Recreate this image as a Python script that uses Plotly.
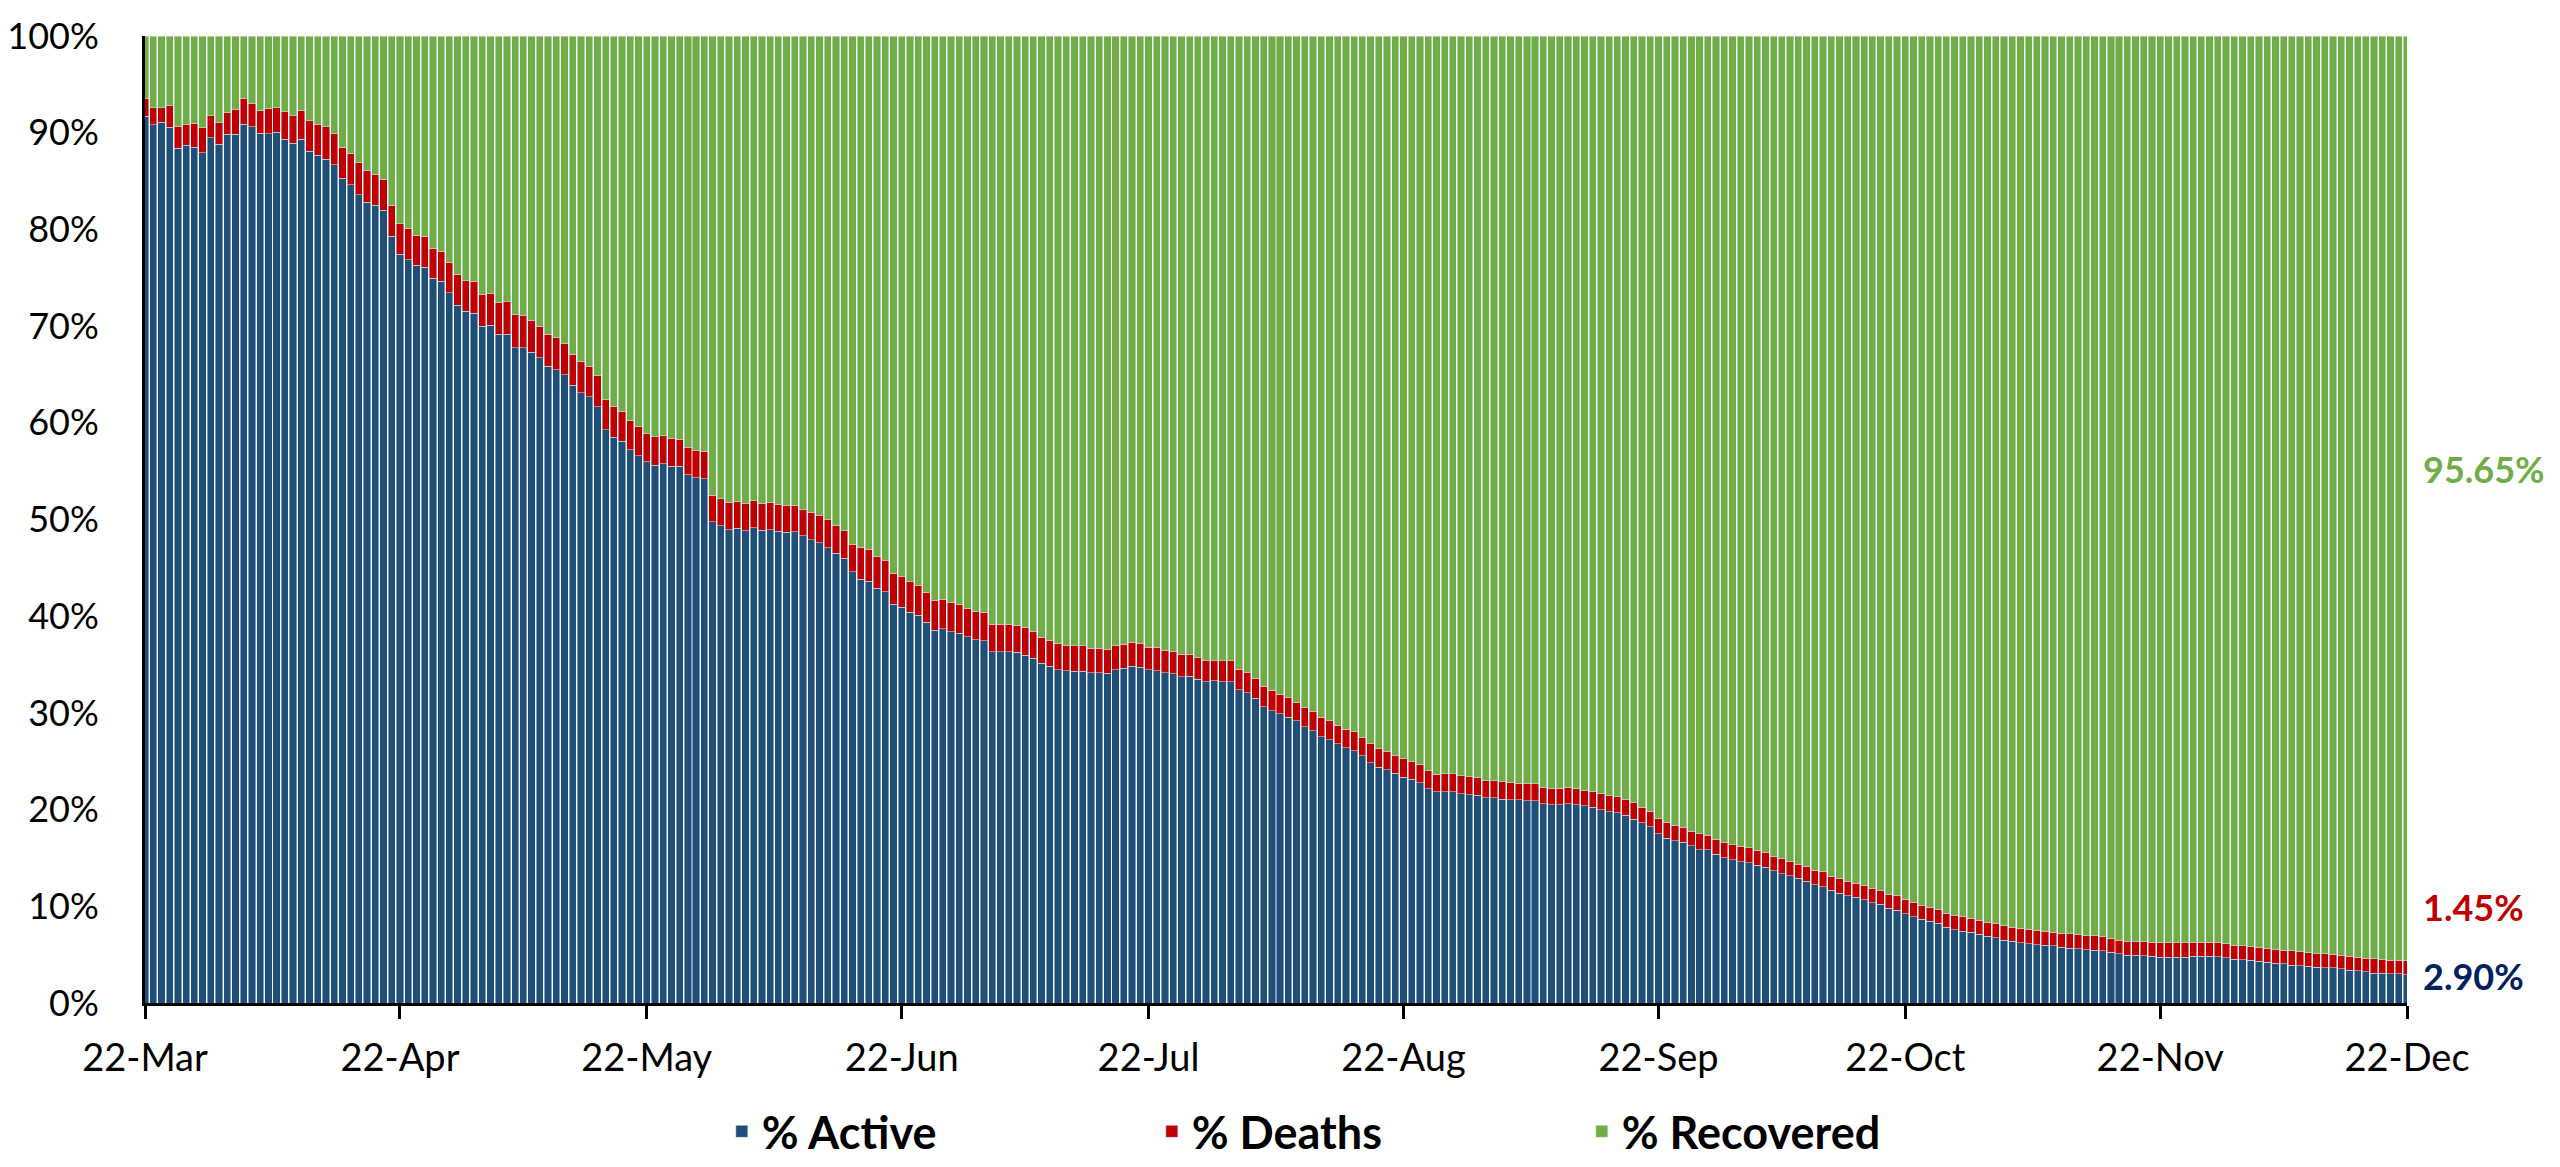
import datetime as dt
import plotly.graph_objects as go

# Daily share of cases (%), 22-Mar-2020 .. 22-Dec-2020
start_date = "2020-03-22"
active = [
    91.70, 90.80, 91.08, 90.56, 88.40, 88.70, 88.50, 87.95, 89.46, 88.80,
    89.84, 89.84, 90.90, 90.60, 89.94, 89.90, 90.05, 89.30, 88.90, 89.30,
    88.10, 87.67, 87.26, 86.70, 85.30, 84.60, 83.60, 82.80, 82.50, 82.00,
    79.30, 77.41, 76.86, 76.27, 76.10, 74.97, 74.66, 73.45, 72.18, 71.56,
    71.35, 70.01, 70.08, 69.18, 69.18, 67.77, 67.77, 67.29, 66.74, 65.87,
    65.50, 64.98, 63.88, 63.09, 62.67, 61.67, 59.30, 58.51, 58.09, 57.23,
    56.58, 55.96, 55.61, 55.75, 55.51, 55.51, 54.65, 54.34, 54.24, 49.76,
    49.35, 48.93, 49.07, 48.83, 49.17, 48.90, 48.93, 48.76, 48.66, 48.73,
    48.31, 47.90, 47.62, 47.10, 46.49, 46.00, 44.59, 43.80, 43.63, 42.87,
    42.53, 41.25, 40.94, 40.39, 40.08, 39.39, 38.57, 38.71, 38.40, 38.26,
    37.88, 37.57, 37.47, 36.33, 36.33, 36.33, 36.29, 35.98, 35.67, 35.12,
    34.85, 34.47, 34.37, 34.33, 34.33, 34.16, 34.16, 34.09, 34.47, 34.61,
    34.85, 34.74, 34.44, 34.37, 34.13, 34.06, 33.75, 33.78, 33.47, 33.23,
    33.30, 33.23, 33.23, 32.37, 32.06, 31.54, 30.65, 30.23, 29.89, 29.55,
    29.17, 28.58, 28.17, 27.55, 27.20, 26.79, 26.38, 26.10, 25.55, 24.86,
    24.38, 24.10, 23.76, 23.35, 23.14, 22.80, 22.18, 21.83, 21.87, 21.83,
    21.63, 21.52, 21.49, 21.21, 21.21, 21.07, 21.04, 21.01, 20.90, 20.90,
    20.59, 20.49, 20.52, 20.59, 20.49, 20.39, 20.25, 20.01, 19.77, 19.66,
    19.42, 19.01, 18.63, 18.22, 17.49, 17.05, 16.77, 16.63, 16.25, 15.87,
    15.84, 15.36, 15.01, 14.81, 14.63, 14.50, 14.22, 14.02, 13.67, 13.36,
    13.15, 12.88, 12.57, 12.22, 12.02, 11.64, 11.36, 11.09, 10.92, 10.67,
    10.36, 10.19, 9.78, 9.61, 9.23, 8.92, 8.64, 8.44, 8.23, 7.82,
    7.58, 7.44, 7.30, 7.13, 6.92, 6.75, 6.47, 6.37, 6.23, 6.13,
    6.03, 5.96, 5.92, 5.79, 5.68, 5.61, 5.51, 5.44, 5.41, 5.27,
    5.10, 4.96, 4.92, 4.89, 4.82, 4.75, 4.75, 4.72, 4.72, 4.82,
    4.82, 4.82, 4.79, 4.68, 4.51, 4.48, 4.41, 4.30, 4.20, 4.13,
    4.06, 3.93, 3.86, 3.79, 3.68, 3.65, 3.62, 3.55, 3.37, 3.31,
    3.24, 3.10, 3.06, 3.03, 3.00, 2.90,
]
deaths = [
    1.86, 1.80, 1.52, 2.24, 2.27, 2.17, 2.50, 2.58, 2.31, 2.25,
    2.24, 2.56, 2.60, 2.40, 2.31, 2.60, 2.55, 2.85, 2.87, 3.00,
    3.15, 3.20, 3.34, 3.20, 3.20, 3.30, 3.30, 3.30, 3.20, 3.20,
    3.20, 3.17, 3.20, 3.10, 3.17, 3.06, 3.09, 3.13, 3.16, 3.16,
    3.27, 3.27, 3.27, 3.24, 3.34, 3.41, 3.34, 3.30, 3.27, 3.31,
    3.30, 3.20, 3.20, 3.23, 3.20, 3.21, 3.10, 3.13, 3.10, 3.03,
    3.03, 2.92, 2.93, 2.89, 2.89, 2.79, 2.82, 2.82, 2.82, 2.75,
    2.82, 2.83, 2.79, 2.82, 2.76, 2.75, 2.83, 2.82, 2.82, 2.75,
    2.72, 2.86, 2.83, 2.90, 2.86, 2.86, 2.86, 3.31, 3.30, 3.27,
    3.27, 3.17, 3.21, 3.17, 3.14, 3.07, 3.10, 3.06, 2.99, 2.99,
    2.96, 2.96, 2.92, 2.86, 2.86, 2.86, 2.79, 2.83, 2.76, 2.72,
    2.68, 2.69, 2.65, 2.59, 2.59, 2.55, 2.55, 2.51, 2.55, 2.51,
    2.48, 2.48, 2.34, 2.41, 2.37, 2.34, 2.30, 2.27, 2.24, 2.24,
    2.17, 2.17, 2.17, 2.13, 2.13, 2.03, 2.13, 2.10, 2.03, 2.06,
    1.92, 2.00, 2.00, 2.00, 1.97, 1.93, 1.93, 1.93, 1.86, 1.93,
    1.96, 1.93, 1.86, 1.89, 1.86, 1.86, 1.86, 1.83, 1.82, 1.86,
    1.85, 1.86, 1.82, 1.79, 1.76, 1.80, 1.72, 1.72, 1.76, 1.76,
    1.69, 1.65, 1.69, 1.69, 1.65, 1.61, 1.65, 1.62, 1.65, 1.66,
    1.65, 1.69, 1.62, 1.61, 1.59, 1.65, 1.62, 1.55, 1.52, 1.62,
    1.52, 1.58, 1.62, 1.55, 1.59, 1.58, 1.59, 1.58, 1.52, 1.55,
    1.52, 1.48, 1.58, 1.52, 1.55, 1.48, 1.55, 1.51, 1.48, 1.49,
    1.52, 1.48, 1.48, 1.51, 1.48, 1.48, 1.48, 1.48, 1.48, 1.48,
    1.51, 1.55, 1.48, 1.44, 1.45, 1.51, 1.52, 1.48, 1.52, 1.51,
    1.51, 1.48, 1.41, 1.44, 1.48, 1.45, 1.45, 1.52, 1.44, 1.41,
    1.41, 1.44, 1.48, 1.45, 1.45, 1.48, 1.48, 1.51, 1.51, 1.48,
    1.48, 1.48, 1.48, 1.45, 1.48, 1.44, 1.41, 1.45, 1.48, 1.45,
    1.42, 1.48, 1.44, 1.41, 1.42, 1.45, 1.41, 1.41, 1.45, 1.41,
    1.41, 1.48, 1.42, 1.41, 1.44, 1.45,
]
recovered = [round(100 - a - d, 2) for a, d in zip(active, deaths)]

tick_dates = ["2020-03-22", "2020-04-22", "2020-05-22", "2020-06-22", "2020-07-22",
              "2020-08-22", "2020-09-22", "2020-10-22", "2020-11-22", "2020-12-22"]
tick_labels = ["22-Mar", "22-Apr", "22-May", "22-Jun", "22-Jul",
               "22-Aug", "22-Sep", "22-Oct", "22-Nov", "22-Dec"]
y_ticks = list(range(0, 101, 10))
y_labels = [f"{v}%" for v in y_ticks]

final_labels = ["95.65%", "1.45%", "2.90%"]

d0 = dt.date.fromisoformat(start_date)
dates = [(d0 + dt.timedelta(days=i)).isoformat() for i in range(len(active))]

C_ACTIVE = "#1F4E79"
C_DEATHS = "#C00000"
C_RECOV = "#70AD47"
FONT = "Lato"

fig = go.Figure()
fig.add_trace(go.Bar(x=dates, y=active, name="% Active", marker_color=C_ACTIVE))
fig.add_trace(go.Bar(x=dates, y=deaths, name="% Deaths", marker_color=C_DEATHS))
fig.add_trace(go.Bar(x=dates, y=recovered, name="% Recovered", marker_color=C_RECOV))

fig.update_layout(
    barmode="stack",
    bargap=0.12,
    width=2560, height=1167,
    margin=dict(l=137, r=161, t=28, b=172, autoexpand=False),
    plot_bgcolor="white",
    paper_bgcolor="white",
    font=dict(family=FONT, size=36, color="black"),
    legend=dict(
        orientation="h", traceorder="normal",
        x=0.255, xanchor="left", y=-0.133, yanchor="middle",
        font=dict(family=FONT, size=45, color="black", weight="bold"),
        entrywidth=385, entrywidthmode="pixels",
        bgcolor="rgba(0,0,0,0)",
    ),
    showlegend=True,
)

fig.update_xaxes(
    type="date",
    range=[tick_dates[0], tick_dates[-1]],
    tickmode="array", tickvals=tick_dates, ticktext=tick_labels,
    ticks="outside", ticklen=13, tickwidth=3, tickcolor="black",
    showline=True, linewidth=3, linecolor="black",
    showgrid=False, zeroline=False, automargin=False,
    ticklabelstandoff=6,
    tickfont=dict(family=FONT, size=38, color="black"),
)
fig.update_yaxes(
    range=[0, 100],
    tickmode="array", tickvals=y_ticks, ticktext=y_labels,
    ticks="", showline=True, linewidth=3, linecolor="black",
    showgrid=False, zeroline=False, automargin=False,
    ticklabelstandoff=36,
    tickfont=dict(family=FONT, size=36, color="black"),
)

ann_y = [55.2, 9.9, 2.75]
ann_colors = [C_RECOV, C_DEATHS, "#002060"]
for txt, yy, col in zip(final_labels, ann_y, ann_colors):
    fig.add_annotation(
        xref="paper", x=1.006, xanchor="left",
        yref="y", y=yy, yanchor="middle",
        text=f"<b>{txt}</b>", showarrow=False,
        font=dict(family=FONT, size=36, color=col),
    )

fig.write_html("out.html")
